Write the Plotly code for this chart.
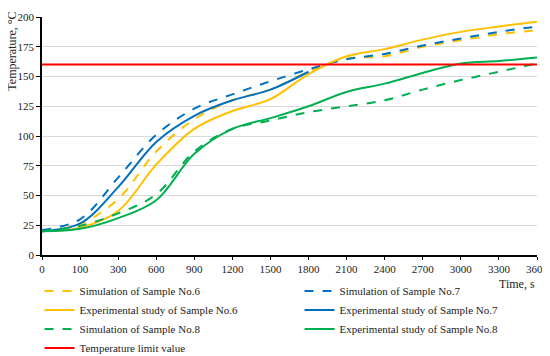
import plotly.graph_objects as go

times = [0, 100, 300, 600, 900, 1200, 1500, 1800, 2100, 2400, 2700, 3000, 3300, 3600]
x_labels = [str(t) for t in times]

sim6 = [20, 26, 47, 87, 114, 130, 139, 154, 165, 167, 175, 180.5, 185.5, 189]
sim7 = [21, 30, 65, 101, 123, 135, 146, 156, 164.5, 169, 176, 182, 187.5, 192]
exp6 = [20, 23, 37, 76, 106, 121, 131, 152, 167, 173, 181, 187.5, 192, 196]
exp7 = [20, 26.5, 57, 95, 117, 130, 139, 154, None, None, None, None, None, None]
sim8 = [20, 24.5, 35, 51, 87, 106, 113, 120, 125, 130, 139, 147, 154, 161]
exp8 = [20, 22, 31, 46, 85, 106, 115, 125, 137, 144, 153, 161, 163, 166]
limit = [160] * len(times)

ORANGE = "#FFC000"
BLUE = "#0070C0"
GREEN = "#00B050"
RED = "#FF0000"

series = [
    ("Simulation of Sample No.6", sim6, ORANGE, "dash"),
    ("Simulation of Sample No.7", sim7, BLUE, "dash"),
    ("Experimental study of Sample No.6", exp6, ORANGE, "solid"),
    ("Experimental study of Sample No.7", exp7, BLUE, "solid"),
    ("Simulation of Sample No.8", sim8, GREEN, "dash"),
    ("Experimental study of Sample No.8", exp8, GREEN, "solid"),
    ("Temperature limit value", limit, RED, "solid"),
]

fig = go.Figure()
for name, vals, color, dash in series:
    fig.add_trace(go.Scatter(
        x=x_labels, y=vals, name=name, mode="lines",
        line=dict(color=color, width=2, dash=dash, shape="spline", smoothing=1),
        connectgaps=False,
    ))

FONT = "Liberation Serif, Times New Roman, serif"

# page body has an 8px margin, so the figure is 8px smaller than the window
fig.update_layout(
    width=542, height=348,
    margin=dict(l=34, r=12.5, t=9, b=100.5, autoexpand=False),
    paper_bgcolor="white", plot_bgcolor="white",
    font=dict(family=FONT, size=11, color="#222"),
    showlegend=True,
    legend=dict(
        orientation="h", xref="paper", yref="paper",
        x=-0.005, xanchor="left", y=-0.0901, yanchor="top",
        entrywidth=215, entrywidthmode="pixels",
        itemwidth=30, font=dict(family=FONT, size=11, color="#222"),
        tracegroupgap=0, bgcolor="rgba(0,0,0,0)",
    ),
    xaxis=dict(
        type="category", range=[0, len(times) - 1], automargin=False,
        showline=True, linecolor="black", linewidth=1.5,
        ticks="outside", ticklen=3, tickcolor="black",
        showgrid=False, zeroline=False,
        tickfont=dict(family=FONT, size=11, color="#222"),
    ),
    yaxis=dict(
        range=[0, 200], tickvals=[0, 25, 50, 75, 100, 125, 150, 175, 200],
        automargin=False,
        showline=True, linecolor="black", linewidth=1.5,
        ticks="outside", ticklen=4, tickcolor="black",
        showgrid=True, gridcolor="#D9D9D9", gridwidth=1, zeroline=False,
        tickfont=dict(family=FONT, size=11, color="#222"),
    ),
    annotations=[
        dict(text="Temperature, °C", xref="paper", yref="paper",
             x=-0.0605, y=1.029, xanchor="center", yanchor="top", textangle=-90,
             showarrow=False, font=dict(family=FONT, size=12, color="#222")),
        dict(text="Time, s", xref="paper", yref="paper",
             x=1.0, y=-0.086, xanchor="right", yanchor="top",
             showarrow=False, font=dict(family=FONT, size=12, color="#222")),
    ],
)

fig.write_html("out.html")
